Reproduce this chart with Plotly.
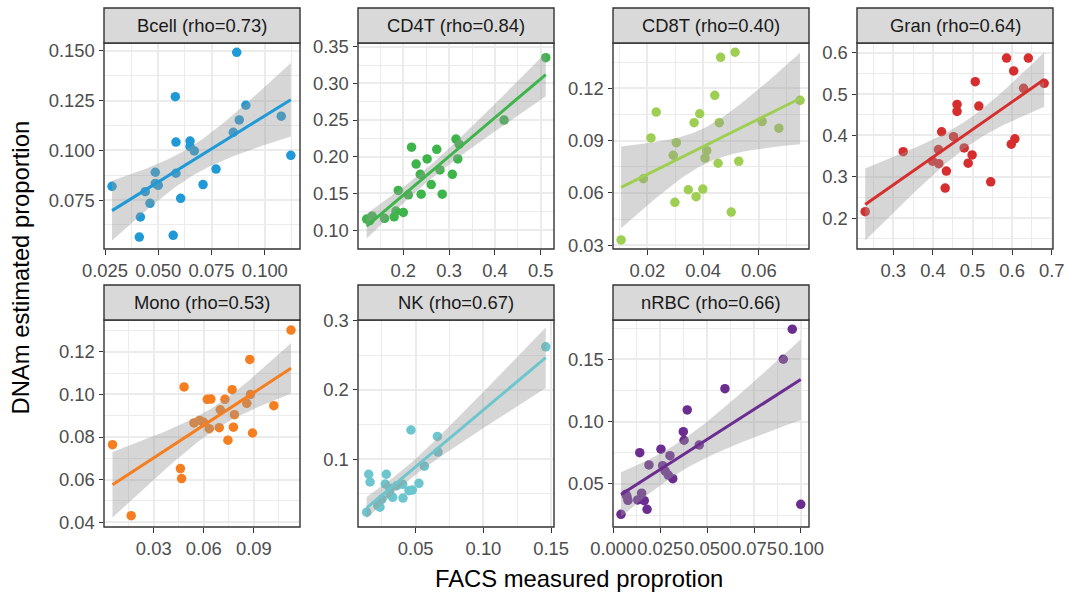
import numpy as np
import plotly.graph_objects as go

# ---------------- data ----------------
cell_types = ["Bcell", "CD4T", "CD8T", "Gran", "Mono", "NK", "nRBC"]
rho_values = ["0.73", "0.84", "0.40", "0.64", "0.53", "0.67", "0.66"]

bcell_facs = [0.0868, 0.0580, 0.0911, 0.1077, 0.0880, 0.0852, 0.0583, 0.0649, 0.0649, 0.0669,
              0.1122, 0.0771, 0.0486, 0.0583, 0.0283, 0.0486, 0.0500, 0.0710, 0.0439, 0.0605,
              0.0461, 0.0416, 0.0411, 0.0570]
bcell_dnam = [0.1493, 0.1270, 0.1227, 0.1172, 0.1153, 0.1091, 0.1042, 0.1047, 0.1019, 0.0997,
              0.0975, 0.0906, 0.0890, 0.0885, 0.0819, 0.0834, 0.0824, 0.0828, 0.0792, 0.0759,
              0.0734, 0.0665, 0.0564, 0.0573]

cd4t_facs = [0.511, 0.420, 0.315, 0.322, 0.218, 0.273, 0.252, 0.319, 0.228, 0.237,
             0.280, 0.307, 0.261, 0.189, 0.211, 0.239, 0.285, 0.184, 0.200, 0.180,
             0.159, 0.132, 0.120, 0.127]
cd4t_dnam = [0.335, 0.250, 0.224, 0.217, 0.213, 0.210, 0.197, 0.197, 0.190, 0.176,
             0.182, 0.176, 0.162, 0.154, 0.148, 0.149, 0.149, 0.126, 0.124, 0.118,
             0.116, 0.119, 0.115, 0.113]

cd8t_facs = [0.0515, 0.0463, 0.0442, 0.0748, 0.0232, 0.0388, 0.0612, 0.0368, 0.0458, 0.0672,
             0.0213, 0.0304, 0.0413, 0.0293, 0.0407, 0.0454, 0.0528, 0.0186, 0.0347, 0.0399,
             0.0375, 0.0299, 0.0501, 0.0106]
cd8t_dnam = [0.1407, 0.1378, 0.1160, 0.1131, 0.1064, 0.1054, 0.1009, 0.1003, 0.1003, 0.0971,
             0.0915, 0.0888, 0.0842, 0.0816, 0.0800, 0.0770, 0.0781, 0.0681, 0.0618, 0.0622,
             0.0578, 0.0546, 0.0490, 0.0330]

gran_facs = [0.586, 0.641, 0.604, 0.507, 0.681, 0.629, 0.516, 0.461, 0.461, 0.422,
             0.452, 0.607, 0.598, 0.414, 0.479, 0.325, 0.399, 0.415, 0.499, 0.489,
             0.434, 0.546, 0.431, 0.229]
gran_dnam = [0.587, 0.587, 0.556, 0.530, 0.526, 0.514, 0.471, 0.475, 0.458, 0.409,
             0.397, 0.392, 0.379, 0.366, 0.370, 0.361, 0.338, 0.332, 0.353, 0.333,
             0.314, 0.288, 0.273, 0.216]

mono_facs = [0.1123, 0.0876, 0.0482, 0.0770, 0.0621, 0.0643, 0.0727, 0.0880, 0.0699, 0.1020,
             0.0858, 0.0784, 0.0541, 0.0575, 0.0599, 0.0633, 0.0693, 0.0778, 0.0745, 0.0892,
             0.0053, 0.0460, 0.0467, 0.0165]
mono_dnam = [0.1302, 0.1164, 0.1035, 0.1022, 0.0977, 0.0978, 0.0977, 0.1000, 0.0928, 0.0947,
             0.0958, 0.0905, 0.0866, 0.0878, 0.0869, 0.0839, 0.0844, 0.0846, 0.0785, 0.0819,
             0.0764, 0.0652, 0.0605, 0.0431]

nk_facs = [0.146, 0.0465, 0.066, 0.0665, 0.0564, 0.0153, 0.0283, 0.0163, 0.0275, 0.0404,
           0.0524, 0.036, 0.031, 0.045, 0.0475, 0.033, 0.0406, 0.0236, 0.0138, 0.031,
           0.0250, 0.0220]
nk_dnam = [0.2622, 0.1421, 0.1329, 0.1102, 0.0898, 0.0782, 0.0782, 0.067, 0.0641, 0.0637,
           0.0651, 0.0616, 0.0578, 0.0544, 0.0554, 0.0448, 0.0438, 0.0307, 0.0234, 0.0490,
           0.0420, 0.0330]

nrbc_facs = [0.0954, 0.0906, 0.0595, 0.0394, 0.0373, 0.0377, 0.0458, 0.0254, 0.0141, 0.0302,
             0.0190, 0.0263, 0.0276, 0.0293, 0.0317, 0.0151, 0.0073, 0.0078, 0.0130, 0.0165,
             0.0180, 0.0041, 0.0999, 0.0067]
nrbc_dnam = [0.1741, 0.1500, 0.1264, 0.1093, 0.0919, 0.0850, 0.0812, 0.0778, 0.0750, 0.0726,
             0.0652, 0.0646, 0.0604, 0.0571, 0.0542, 0.0425, 0.0397, 0.0368, 0.0371, 0.0365,
             0.0296, 0.0256, 0.0336, 0.0417]

facs_values = [bcell_facs, cd4t_facs, cd8t_facs, gran_facs, mono_facs, nk_facs, nrbc_facs]
dnam_values = [bcell_dnam, cd4t_dnam, cd8t_dnam, gran_dnam, mono_dnam, nk_dnam, nrbc_dnam]

# ---------------- styling / layout specs ----------------
colors = ["#1F9AD6", "#3DB54A", "#9FCF52", "#D62E2E", "#F47E20", "#6DC6CD", "#6B2D90"]

W, H = 1065, 592
# panel pixel boxes (left, right, top, bottom) of plotting area
panel_boxes = [
    (104, 300, 43, 249), (358, 554, 43, 249), (613, 809, 43, 249), (857, 1053, 43, 249),
    (104, 300, 320, 527), (358, 554, 320, 527), (613, 809, 320, 527),
]
strip_h = 35

axis_specs = [
    # x_range, x_tick0, x_dtick, x_fmt, y_range, y_tick0, y_dtick, y_fmt
    ([0.02453, 0.1165], 0.025, 0.025, ".3f", [0.0504, 0.154], 0.075, 0.025, ".3f"),
    ([0.1011, 0.529], 0.2, 0.1, ".1f", [0.0742, 0.355], 0.10, 0.05, ".2f"),
    ([0.0077, 0.078], 0.02, 0.02, ".2f", [0.0278, 0.146], 0.03, 0.03, ".2f"),
    ([0.2083, 0.7033], 0.3, 0.1, ".1f", [0.1258, 0.6234], 0.2, 0.1, ".1f"),
    ([0.0002, 0.1177], 0.03, 0.03, ".2f", [0.0378, 0.1349], 0.04, 0.02, ".2f"),
    ([0.0074, 0.1521], 0.05, 0.05, ".2f", [0.002, 0.301], 0.1, 0.1, ".1f"),
    ([-0.00016, 0.1043], 0.0, 0.025, ".3f", [0.0154, 0.1815], 0.05, 0.05, ".2f"),
]

FONT = "Liberation Sans, Arial, Helvetica, sans-serif"
BORDER = "#333333"
GRID = "#EBEBEB"


def t_quantile(df, z=1.959964):
    return z + (z**3 + z) / (4 * df) + (5 * z**5 + 16 * z**3 + 3 * z) / (96 * df**2)


fig = go.Figure()
shapes = []
annotations = []

for i, name in enumerate(cell_types):
    xs = np.array(facs_values[i], dtype=float)
    ys = np.array(dnam_values[i], dtype=float)
    col = colors[i]
    xa = "x" if i == 0 else f"x{i+1}"
    ya = "y" if i == 0 else f"y{i+1}"

    # points
    fig.add_trace(go.Scatter(x=xs, y=ys, mode="markers", xaxis=xa, yaxis=ya,
                             marker=dict(color=col, size=9.5, line=dict(width=0)),
                             showlegend=False, hoverinfo="x+y"))

    # linear fit + 95% CI
    n = len(xs)
    b, a = np.polyfit(xs, ys, 1)
    resid = ys - (a + b * xs)
    s = np.sqrt(np.sum(resid**2) / (n - 2))
    xbar = xs.mean()
    sxx = np.sum((xs - xbar) ** 2)
    xg = np.linspace(xs.min(), xs.max(), 80)
    fit = a + b * xg
    se = s * np.sqrt(1.0 / n + (xg - xbar) ** 2 / sxx)
    tq = t_quantile(n - 2)
    lo, hi = fit - tq * se, fit + tq * se

    fig.add_trace(go.Scatter(x=xg, y=lo, mode="lines", line=dict(width=0), xaxis=xa, yaxis=ya,
                             showlegend=False, hoverinfo="skip"))
    fig.add_trace(go.Scatter(x=xg, y=hi, mode="lines", line=dict(width=0), fill="tonexty",
                             fillcolor="rgba(153,153,153,0.4)", xaxis=xa, yaxis=ya,
                             showlegend=False, hoverinfo="skip"))
    fig.add_trace(go.Scatter(x=xg, y=fit, mode="lines", line=dict(color=col, width=3),
                             xaxis=xa, yaxis=ya, showlegend=False, hoverinfo="skip"))

    l, r, t, btm = panel_boxes[i]
    xr, xt0, xdt, xfmt, yr, yt0, ydt, yfmt = axis_specs[i]
    common = dict(showgrid=True, gridcolor=GRID, gridwidth=1.6, zeroline=False,
                  showline=False, ticks="outside", ticklen=4.5, tickwidth=1.4,
                  tickcolor=BORDER, tickfont=dict(family=FONT, size=18.4, color="#4D4D4D"),
                  fixedrange=True, automargin=False)
    xkey = "xaxis" if i == 0 else f"xaxis{i+1}"
    ykey = "yaxis" if i == 0 else f"yaxis{i+1}"
    fig.update_layout(**{
        xkey: dict(domain=[l / W, r / W], anchor=ya, range=xr, tick0=xt0, dtick=xdt,
                   tickformat=xfmt, tickangle=0,
                   minor=dict(tick0=xt0, dtick=xdt / 2, showgrid=True, gridcolor=GRID,
                              gridwidth=0.8),
                   **common),
        ykey: dict(domain=[1 - btm / H, 1 - t / H], anchor=xa, range=yr, tick0=yt0, dtick=ydt,
                   tickformat=yfmt,
                   minor=dict(tick0=yt0, dtick=ydt / 2, showgrid=True, gridcolor=GRID,
                              gridwidth=0.8),
                   **common),
    })

    # panel border
    shapes.append(dict(type="rect", xref="paper", yref="paper",
                       x0=l / W, x1=r / W, y0=1 - btm / H, y1=1 - t / H,
                       line=dict(color=BORDER, width=1.4), fillcolor="rgba(0,0,0,0)",
                       layer="above"))
    # strip
    shapes.append(dict(type="rect", xref="paper", yref="paper",
                       x0=l / W, x1=r / W, y0=1 - t / H, y1=1 - (t - strip_h) / H,
                       line=dict(color=BORDER, width=1.4), fillcolor="#D9D9D9",
                       layer="above"))
    annotations.append(dict(xref="paper", yref="paper", x=(l + r) / 2 / W,
                            y=1 - (t - strip_h / 2) / H, text=f"{name} (rho={rho_values[i]})",
                            showarrow=False, xanchor="center", yanchor="middle",
                            font=dict(family=FONT, size=18.4, color="#1A1A1A")))

annotations.append(dict(xref="paper", yref="paper", x=578.5 / W, y=1 - 578 / H,
                        text="FACS measured proprotion", showarrow=False,
                        xanchor="center", yanchor="middle",
                        font=dict(family=FONT, size=23.8, color="#000000")))
annotations.append(dict(xref="paper", yref="paper", x=20 / W, y=1 - 267.5 / H,
                        text="DNAm estimated proportion", showarrow=False, textangle=-90,
                        xanchor="center", yanchor="middle",
                        font=dict(family=FONT, size=23.8, color="#000000")))

fig.update_layout(width=W, height=H, margin=dict(l=0, r=0, t=0, b=0, autoexpand=False),
                  paper_bgcolor="white", plot_bgcolor="white",
                  shapes=shapes, annotations=annotations, showlegend=False)

fig.write_html("out.html")
